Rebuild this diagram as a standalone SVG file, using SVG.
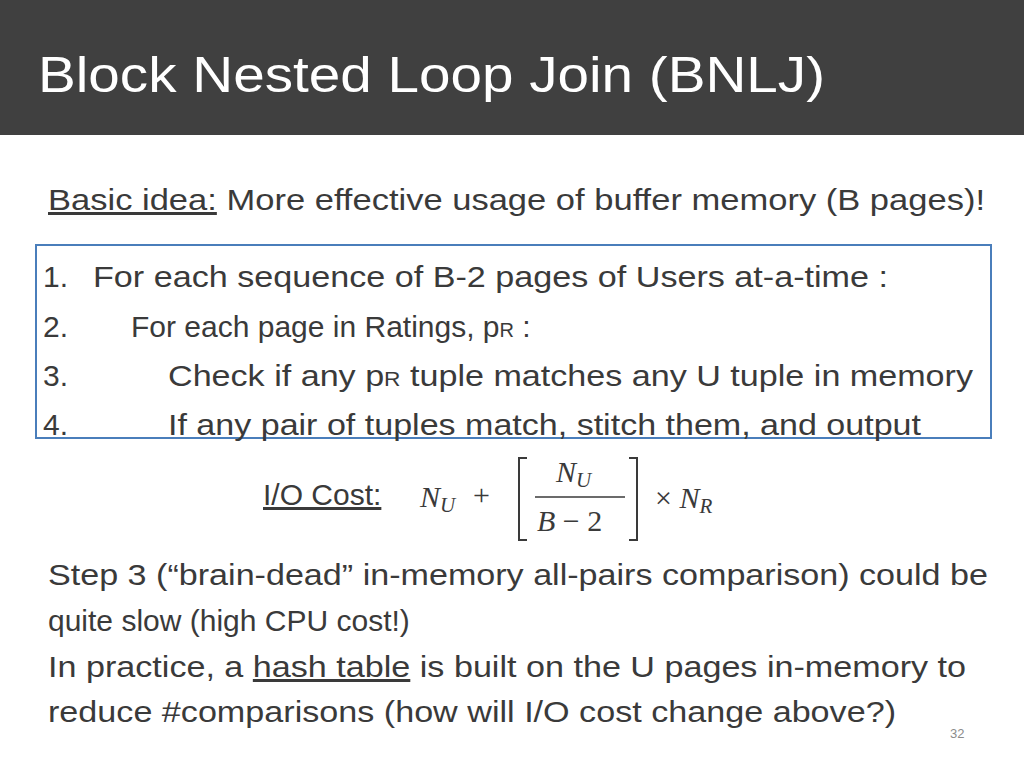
<svg xmlns="http://www.w3.org/2000/svg" width="1024" height="768" viewBox="0 0 1024 768">
<style>
.t{font-family:"Liberation Sans",Arial,sans-serif;font-size:30px;fill:#3a3a3a}
.m{font-family:"Liberation Serif","DejaVu Serif",serif;font-size:30px;fill:#3a3a3a}
.i{font-style:italic}
</style>
<rect width="1024" height="768" fill="#fff"/>
<rect width="1024" height="135" fill="#404040"/>
<text x="38" y="92" font-family="Liberation Sans,Arial,sans-serif" font-size="50" fill="#fff" textLength="787" lengthAdjust="spacingAndGlyphs">Block Nested Loop Join (BNLJ)</text>
<text class="t" x="48" y="210" textLength="937" lengthAdjust="spacingAndGlyphs"><tspan text-decoration="underline">Basic idea:</tspan> More effective usage of buffer memory (B pages)!</text>
<rect x="36" y="245" width="955" height="193" fill="none" stroke="#4a7ebb" stroke-width="2"/>
<g class="t">
<text class="t" x="43" y="287">1.</text><text class="t" x="93" y="287" textLength="795" lengthAdjust="spacingAndGlyphs">For each sequence of B-2 pages of Users at-a-time :</text>
<text class="t" x="43" y="337">2.</text><text class="t" x="131" y="337">For each page in Ratings, p<tspan font-size="20">R</tspan> :</text>
<text class="t" x="43" y="386">3.</text><text class="t" x="168" y="386" textLength="805" lengthAdjust="spacingAndGlyphs">Check if any p<tspan font-size="20">R</tspan> tuple matches any U tuple in memory</text>
<text class="t" x="43" y="435">4.</text><text class="t" x="168" y="435" textLength="753" lengthAdjust="spacingAndGlyphs">If any pair of tuples match, stitch them, and output</text>
</g>
<text class="t" x="263" y="505" text-decoration="underline">I/O Cost:</text>
<text class="m i" x="420" y="507">N<tspan font-size="21" dy="5">U</tspan></text>
<text class="m" x="473" y="505">+</text>
<path d="M527 458 H519 V540 H527 M629 458 H637 V540 H629" fill="none" stroke="#3a3a3a" stroke-width="2"/>
<text class="m i" x="556" y="482">N<tspan font-size="21" dy="5">U</tspan></text>
<line x1="535" y1="497" x2="625" y2="497" stroke="#3a3a3a" stroke-width="1.5"/>
<text class="m" x="537" y="531"><tspan font-style="italic">B</tspan> − 2</text>
<text class="m" x="655" y="508">× <tspan font-style="italic">N</tspan><tspan font-style="italic" font-size="21" dy="5">R</tspan></text>
<text class="t" x="48" y="585" textLength="940" lengthAdjust="spacingAndGlyphs">Step 3 (“brain-dead” in-memory all-pairs comparison) could be</text>
<text class="t" x="48" y="631">quite slow (high CPU cost!)</text>
<text class="t" x="48" y="677" textLength="918" lengthAdjust="spacingAndGlyphs">In practice, a <tspan text-decoration="underline">hash table</tspan> is built on the U pages in-memory to</text>
<text class="t" x="48" y="722" textLength="848" lengthAdjust="spacingAndGlyphs">reduce #comparisons (how will I/O cost change above?)</text>
<text x="950" y="738" font-family="Liberation Sans,Arial,sans-serif" font-size="13" fill="#8c8c8c">32</text>
</svg>
